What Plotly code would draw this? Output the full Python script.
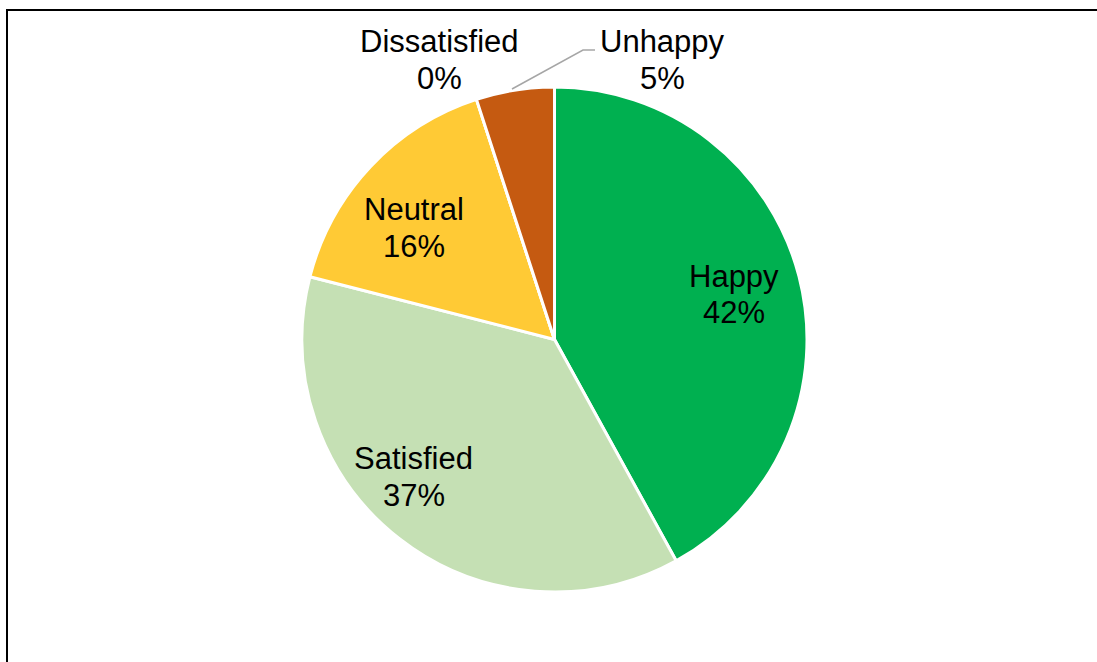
import math
import plotly.graph_objects as go

labels = ["Happy", "Satisfied", "Neutral", "Dissatisfied", "Unhappy"]
values = [42, 37, 16, 0, 5]
colors = ["#00B050", "#C5E0B4", "#FFCA35", "#C00000", "#C55A11"]

W, H = 1097, 662
cx, cy, R = 554.5, 339.5, 252.5
FS = 31
LINE = 36.5
font = dict(family="Liberation Sans, Arial, sans-serif", size=FS, color="black")

fig = go.Figure(go.Pie(
    labels=labels, values=values, sort=False, direction="clockwise", rotation=0,
    marker=dict(colors=colors, line=dict(color="white", width=3)),
    textinfo="none", showlegend=False, hoverinfo="label+percent",
    domain=dict(x=[(cx - R) / W, (cx + R) / W], y=[1 - (cy + R) / H, 1 - (cy - R) / H]),
))

total = sum(values)
pct = [f"{v / total:.0%}" for v in values]

# label placement: inside labels on (nudged) slice bisector, outside labels above the pie
inside_pos = {"Happy": (0.3, 0.733), "Satisfied": (7.8, 0.779), "Neutral": (-4.7, 0.709)}
outside_pos = {"Dissatisfied": (439, 60), "Unhappy": (662, 60)}


def add_label(px, py, i):
    for k, txt in enumerate([labels[i], pct[i]]):
        fig.add_annotation(x=px / W, y=1 - (py + (k - 0.5) * LINE) / H, xref="paper", yref="paper",
                           text=txt, showarrow=False, font=font, xanchor="center", yanchor="middle")


cum = 0
for i, v in enumerate(values):
    mid = (cum + v / 2) / total * 360
    cum += v
    if labels[i] in inside_pos:
        da, rf = inside_pos[labels[i]]
        a = math.radians(mid + da)
        add_label(cx + rf * R * math.sin(a), cy - rf * R * math.cos(a), i)
    else:
        add_label(*outside_pos[labels[i]], i)

# leader line for Unhappy
fig.add_shape(type="path", xref="paper", yref="paper",
              path=f"M {512 / W} {1 - 89 / H} L {583 / W} {1 - 50 / H} L {595 / W} {1 - 50 / H}",
              line=dict(color="#A6A6A6", width=1.5))
fig.add_shape(type="rect", xref="paper", yref="paper",
              x0=7 / W, y0=-0.1, x1=1.1, y1=1 - 10 / H,
              line=dict(color="black", width=2), fillcolor="rgba(0,0,0,0)")

fig.update_layout(width=W, height=H, margin=dict(l=0, r=0, t=0, b=0),
                  paper_bgcolor="white", plot_bgcolor="white")
fig.write_html("out.html")
